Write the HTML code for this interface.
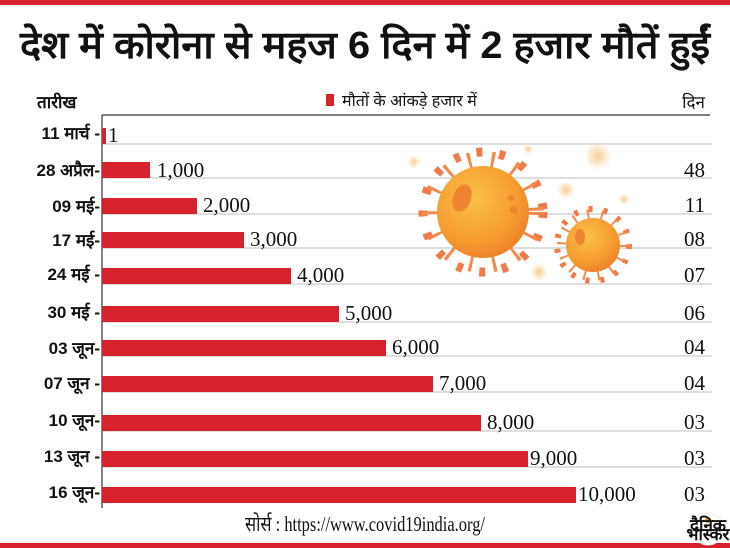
<!DOCTYPE html>
<html><head><meta charset="utf-8"><style>
html,body{margin:0;padding:0;background:#fff;}
svg{display:block;}
.t{font-family:"Liberation Sans","Noto Sans CJK SC",sans-serif;}
.lab{font-family:"Liberation Sans","Noto Sans CJK SC",sans-serif;font-weight:bold;font-size:17px;fill:#111;}
.v{font-family:"Liberation Serif",serif;font-size:21px;fill:#111;}
</style></head><body>
<svg width="730" height="548" viewBox="0 0 730 548">
<defs>
<radialGradient id="g1" cx="0.4" cy="0.35" r="0.7"><stop offset="0" stop-color="#fbc04a"/><stop offset="0.7" stop-color="#f59a2e"/><stop offset="1" stop-color="#ee7d2a"/></radialGradient>
<radialGradient id="b" cx="0.5" cy="0.5" r="0.5"><stop offset="0" stop-color="#f6c27a" stop-opacity="0.8"/><stop offset="1" stop-color="#f6c27a" stop-opacity="0"/></radialGradient>
</defs>
<rect x="0" y="0" width="730" height="5" fill="#d5222c"/>
<rect x="0" y="543" width="730" height="5" fill="#d5222c"/>
<text x="365" y="58" text-anchor="middle" class="t" font-size="38" font-weight="bold" fill="#111" textLength="690" lengthAdjust="spacingAndGlyphs">देश में कोरोना से महज 6 दिन में 2 हजार मौतें हुईं</text>
<text x="37" y="108" class="lab" font-size="16" font-weight="normal">तारीख</text>
<rect x="326" y="94" width="8" height="12" fill="#d5222c"/>
<text x="342" y="106" class="t" font-size="16" fill="#111">मौतों के आंकड़े हजार में</text>
<text x="705" y="108" text-anchor="end" class="t" font-size="17" fill="#111">दिन</text>
<line x1="102" y1="115" x2="710" y2="115" stroke="#333" stroke-width="1.2"/>
<g stroke="#ccc" stroke-width="1.2">
<line x1="102" y1="144" x2="712" y2="144"/><line x1="102" y1="178" x2="712" y2="178"/><line x1="102" y1="214" x2="712" y2="214"/><line x1="102" y1="248" x2="712" y2="248"/><line x1="102" y1="284" x2="712" y2="284"/><line x1="102" y1="322" x2="712" y2="322"/><line x1="102" y1="356" x2="712" y2="356"/><line x1="102" y1="392" x2="712" y2="392"/><line x1="102" y1="431" x2="712" y2="431"/><line x1="102" y1="467" x2="712" y2="467"/>
</g>
<circle cx="598" cy="156" r="14" fill="url(#b)"/><circle cx="566" cy="190" r="9" fill="url(#b)"/><circle cx="414" cy="162" r="7" fill="url(#b)"/><circle cx="539" cy="272" r="9" fill="url(#b)"/><circle cx="624" cy="199" r="6" fill="url(#b)"/><circle cx="528" cy="149" r="5" fill="url(#b)"/>
<g>
<circle cx="483" cy="212" r="60" fill="none" stroke="#f07b4a" stroke-width="9" stroke-dasharray="6 17"/>
<circle cx="483" cy="212" r="52" fill="none" stroke="#f38a4a" stroke-width="18" stroke-dasharray="3 20"/>
<circle cx="483" cy="212" r="46" fill="url(#g1)"/>
<ellipse cx="462" cy="198" rx="9" ry="14" fill="#ee8330" transform="rotate(20 462 198)"/>
<circle cx="514" cy="210" r="4" fill="#ee8330"/><circle cx="511" cy="198" r="3" fill="#ee8330"/>
</g>
<g>
<circle cx="593" cy="245" r="36" fill="none" stroke="#f07b4a" stroke-width="6" stroke-dasharray="4 11"/>
<circle cx="593" cy="245" r="31" fill="none" stroke="#f38a4a" stroke-width="10" stroke-dasharray="2 12"/>
<circle cx="593" cy="245" r="27" fill="url(#g1)"/>
<ellipse cx="580" cy="237" rx="5" ry="8" fill="#ee8330"/>
</g>
<line x1="102" y1="115" x2="102" y2="508" stroke="#333" stroke-width="1.2"/>
<g fill="#d5222c">
<rect x="102" y="128" width="4" height="16"/>
<rect x="102" y="162" width="48" height="16"/>
<rect x="102" y="198" width="95" height="16"/>
<rect x="102" y="232" width="142" height="16"/>
<rect x="102" y="268" width="189" height="16"/>
<rect x="102" y="306" width="237" height="16"/>
<rect x="102" y="340" width="284" height="16"/>
<rect x="102" y="376" width="331" height="16"/>
<rect x="102" y="415" width="379" height="16"/>
<rect x="102" y="451" width="426" height="16"/>
<rect x="102" y="487" width="474" height="16"/>
</g>
<g class="lab" text-anchor="end">
<text x="100" y="139">11 मार्च -</text>
<text x="100" y="176">28 अप्रैल-</text>
<text x="100" y="212">09 मई-</text>
<text x="100" y="246">17 मई-</text>
<text x="100" y="280">24 मई -</text>
<text x="100" y="318">30 मई -</text>
<text x="100" y="354">03 जून-</text>
<text x="100" y="389">07 जून -</text>
<text x="100" y="426">10 जून-</text>
<text x="100" y="462">13 जून -</text>
<text x="100" y="498">16 जून-</text>
</g>
<g class="v">
<text x="108" y="142">1</text>
<text x="157" y="177">1,000</text>
<text x="203" y="212">2,000</text>
<text x="250" y="246">3,000</text>
<text x="297" y="282">4,000</text>
<text x="345" y="320">5,000</text>
<text x="392" y="354">6,000</text>
<text x="439" y="390">7,000</text>
<text x="487" y="429">8,000</text>
<text x="530" y="465">9,000</text>
<text x="578" y="501">10,000</text>
</g>
<g class="v" text-anchor="end">
<text x="705" y="177">48</text>
<text x="705" y="212">11</text>
<text x="705" y="246">08</text>
<text x="705" y="282">07</text>
<text x="705" y="320">06</text>
<text x="705" y="354">04</text>
<text x="705" y="390">04</text>
<text x="705" y="429">03</text>
<text x="705" y="465">03</text>
<text x="705" y="501">03</text>
</g>
<text x="365" y="531" text-anchor="middle" class="v" font-size="15" textLength="240" lengthAdjust="spacingAndGlyphs">सोर्स : https://www.covid19india.org/</text>
<circle cx="708" cy="529" r="16" fill="#fff" stroke="#eee"/>
<circle cx="708" cy="520" r="3" fill="#f7941d"/>
<text x="708" y="531" text-anchor="middle" class="lab" font-size="8">दैनिक</text>
<text x="708" y="540" text-anchor="middle" class="lab" font-size="8">भास्कर</text>
</svg>
</body></html>
